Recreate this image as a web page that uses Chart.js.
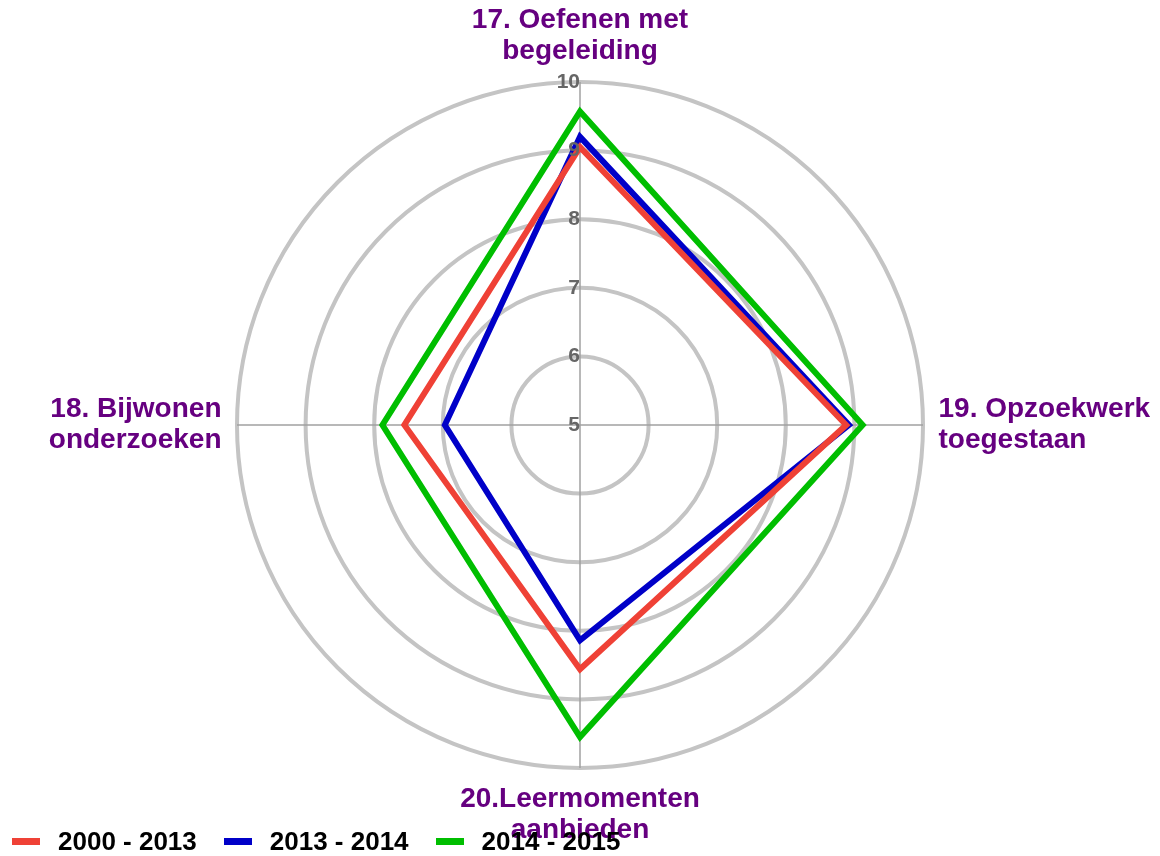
<!DOCTYPE html>
<html>
<head>
<meta charset="utf-8">
<title>Radar</title>
<script src="https://cdn.jsdelivr.net/npm/chart.js@4"></script>
<style>
  body { margin: 0; background: #fff; }
  #wrap { position: relative; width: 1160px; height: 856px; }
  #legend {
    position: absolute; left: 12px; top: 826px;
    display: flex; line-height: 30px;
    font: bold 26px "Liberation Sans", Arial, sans-serif; color: #000;
  }
  #legend .item { display: flex; align-items: center; margin-right: 27px; }
  #legend .box { width: 28px; height: 7px; margin-right: 18px; }
</style>
</head>
<body>
<div id="wrap">
  <canvas id="myChart" width="1160" height="856"></canvas>
  <div id="legend"></div>
</div>
<script>
// categories (clockwise from the top)
const labels = [
  ['17. Oefenen met', 'begeleiding'],
  ['19. Opzoekwerk', 'toegestaan'],
  ['20.Leermomenten', 'aanbieden'],
  ['18. Bijwonen', 'onderzoeken']
];
const seriesNames = ['2000 - 2013', '2013 - 2014', '2014 - 2015'];
const values2000_2013 = [9.05, 8.88, 8.56, 7.56];
const values2013_2014 = [9.2, 8.92, 8.14, 6.97];
const values2014_2015 = [9.57, 9.12, 9.55, 7.88];
const colors = ['#EF4136', '#0000C8', '#00BE00'];

Chart.defaults.font.family = '"Liberation Sans", Arial, sans-serif';

// where the web sits on the page (centre + radius of the "10" ring)
const webX = 580, webY = 425, webR = 343;

let ctx = document.getElementById('myChart').getContext('2d');

let radarChart = new Chart(ctx, {
    type: 'radar',
    data: {
        labels: labels,
        datasets: [values2000_2013, values2013_2014, values2014_2015].map((vals, i) => ({
            label: seriesNames[i],
            data: vals,
            borderColor: colors[i],
            backgroundColor: colors[i],
            borderWidth: 6,
            borderJoinStyle: 'miter',
            fill: false,
            pointRadius: 0,
            pointHoverRadius: 0
        }))
    },
    options: {
        responsive: false,
        animation: false,
        plugins: {
            legend: { display: false },
            tooltip: { enabled: false }
        },
        scales: {
            r: {
                min: 5,
                max: 10,
                ticks: {
                    stepSize: 1,
                    z: 1, // numbers on top of the lines
                    color: '#666',
                    backdropPadding: 0,
                    font: { size: 21, weight: 'bold' },
                    showLabelBackdrop: false,
                    // trailing spaces push the centred number left of the axis
                    callback: function(value) {
                        const s = String(value);
                        return s + ' '.repeat(s.length * 2);
                    }
                },
                // chart.js never draws the first tick label, so put a copy of it in front
                afterBuildTicks: function(scale) {
                    scale.ticks.unshift({ value: scale.min });
                },
                // pin the web in place and move the point labels along with it
                afterFit: function(scale) {
                    const n = scale._pointLabels.length;
                    const before = [];
                    for (let i = 0; i < n; i++) before.push(scale.getPointPosition(i, scale.drawingArea));
                    scale.xCenter = webX;
                    scale.yCenter = webY;
                    scale.drawingArea = webR;
                    scale._pointLabelItems.forEach((item, i) => {
                        const after = scale.getPointPosition(i, webR);
                        const dx = after.x - before[i].x, dy = after.y - before[i].y;
                        item.x += dx; item.left += dx; item.right += dx;
                        item.y += dy; item.top += dy; item.bottom += dy;
                    });
                },
                grid: {
                    circular: true,
                    color: '#C4C4C4',
                    lineWidth: 4
                },
                angleLines: {
                    color: '#A0A0A0',
                    lineWidth: 1.5
                },
                pointLabels: {
                    color: '#660080',
                    padding: 5,
                    font: { size: 28, weight: 'bold', lineHeight: 1.11 }
                }
            }
        }
    }
});

// legend as html so it can sit over the bottom of the chart
let legendHtml = '';
radarChart.data.datasets.forEach(ds => {
    legendHtml += '<div class="item"><span class="box" style="background:' + ds.borderColor + '"></span>' + ds.label + '</div>';
});
document.getElementById('legend').innerHTML = legendHtml;
</script>
</body>
</html>
